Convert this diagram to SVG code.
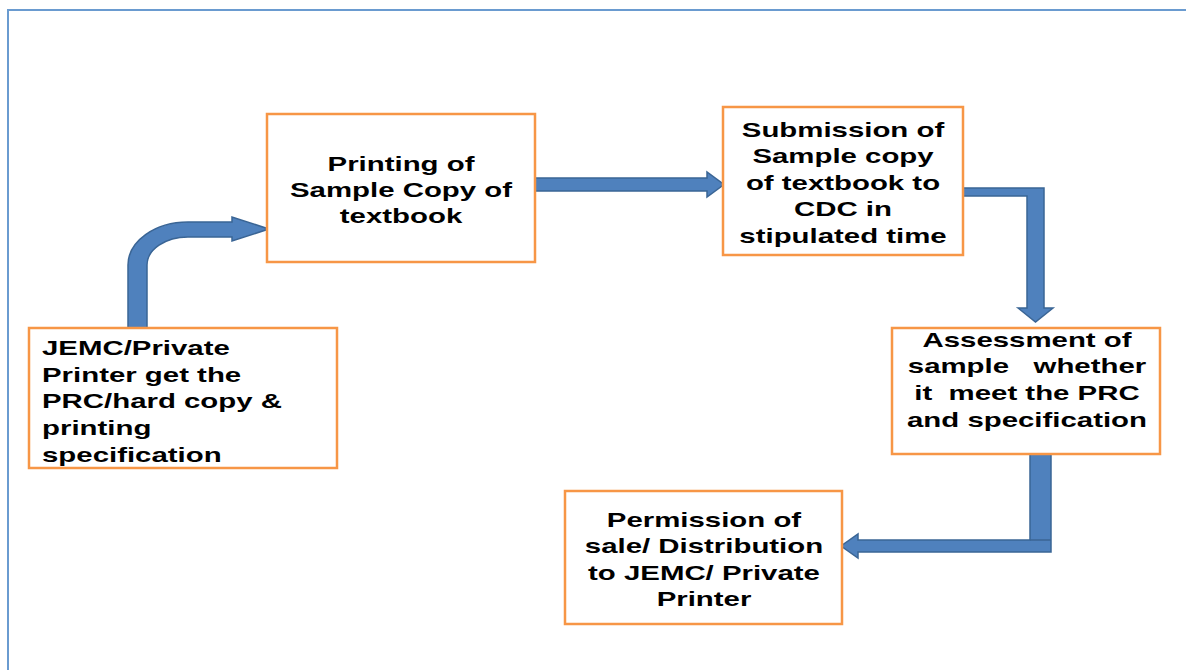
<svg xmlns="http://www.w3.org/2000/svg" width="1186" height="670" viewBox="0 0 1186 670">
<style>
.box{fill:#fff;stroke:#F79646;stroke-width:2.5}
.arr{fill:#4F81BD;stroke:#3A6595;stroke-width:1.5;stroke-linejoin:miter}
.t{font-family:"Liberation Sans",Arial,sans-serif;font-weight:bold;font-size:21px;fill:#000;white-space:pre}
.c{text-anchor:middle}
</style>
<rect width="1186" height="670" fill="#fff"/>
<rect x="8" y="10" width="1200" height="700" fill="none" stroke="#6A9BD0" stroke-width="2"/>
<g id="connectors">
<path class="arr" d="M128,328 L128,265 A60,43 0 0 1 188,222 L232,222 L232,217 L269,229 L232,241 L232,237 L188,237 A41,28 0 0 0 147,265 L147,328 Z"/>
<path class="arr" d="M535,178 L707,178 L707,172 L724,184.5 L707,197 L707,191 L535,191 Z"/>
<path class="arr" d="M961,188 L1044,188 L1044,308 L1053,308 L1035.5,322 L1018,308 L1027,308 L1027,196 L961,196 Z"/>
<path class="arr" d="M1030,454 L1051,454 L1051,552 L858,552 L858,558 L841,546 L858,534 L858,540 L1030,540 Z"/>
<line x1="1030" y1="540" x2="1051" y2="540" stroke="#3A6595" stroke-width="1.5"/>
</g>
<g id="node-jemc">
<rect class="box" x="29" y="328" width="308" height="140"/>
<g transform="translate(42,0) scale(1.4,1)">
<text class="t" x="0" y="355">JEMC/Private</text>
<text class="t" x="0" y="381.7">Printer get the</text>
<text class="t" x="0" y="408.3">PRC/hard copy &amp;</text>
<text class="t" x="0" y="435">printing</text>
<text class="t" x="0" y="461.7">specification</text>
</g>
</g>
<g id="node-printing">
<rect class="box" x="267" y="114" width="268" height="148"/>
<g transform="translate(401,0) scale(1.4,1)">
<text class="t c" x="0" y="171">Printing of</text>
<text class="t c" x="0" y="197">Sample Copy of</text>
<text class="t c" x="0" y="223">textbook</text>
</g>
</g>
<g id="node-submission">
<rect class="box" x="723" y="107" width="240" height="148"/>
<g transform="translate(843,0) scale(1.4,1)">
<text class="t c" x="0" y="137">Submission of</text>
<text class="t c" x="0" y="163.5">Sample copy</text>
<text class="t c" x="0" y="190">of textbook to</text>
<text class="t c" x="0" y="216.5">CDC in</text>
<text class="t c" x="0" y="243">stipulated time</text>
</g>
</g>
<g id="node-assessment">
<rect class="box" x="892" y="328" width="268" height="126"/>
<g transform="translate(1027,0) scale(1.4,1)">
<text class="t c" x="0" y="346.7">Assessment of</text>
<text class="t c" x="0" y="373.3">sample   whether</text>
<text class="t c" x="0" y="400">it  meet the PRC</text>
<text class="t c" x="0" y="426.7">and specification</text>
</g>
</g>
<g id="node-permission">
<rect class="box" x="565" y="491" width="277" height="133"/>
<g transform="translate(704,0) scale(1.4,1)">
<text class="t c" x="0" y="526.7">Permission of</text>
<text class="t c" x="0" y="553.3">sale/ Distribution</text>
<text class="t c" x="0" y="580">to JEMC/ Private</text>
<text class="t c" x="0" y="606.5">Printer</text>
</g>
</g>
</svg>
